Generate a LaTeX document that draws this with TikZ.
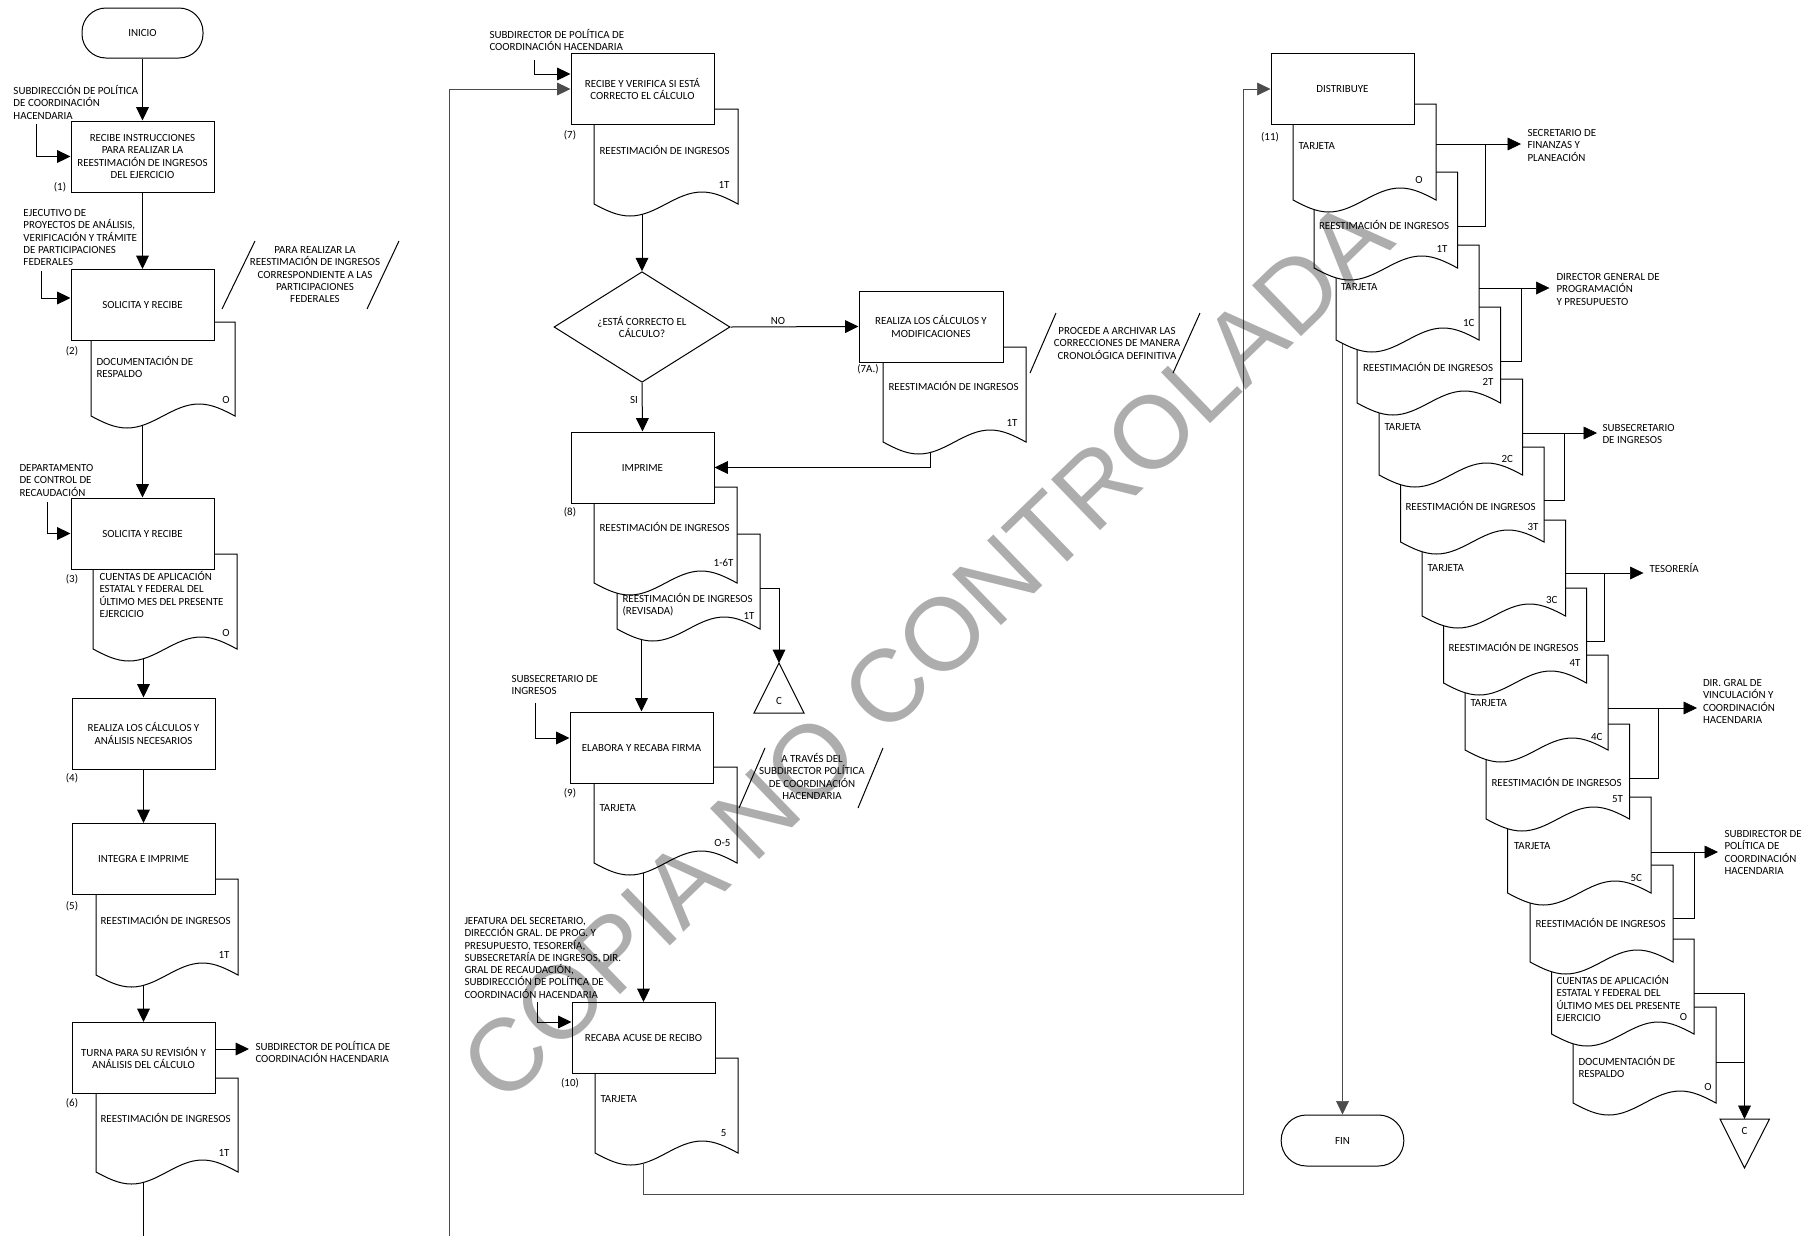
\documentclass[tikz,border=0pt]{standalone}
\usepackage{fontspec}
\setmainfont{Carlito}
\newfontfamily\wmfont{Liberation Sans}
\usetikzlibrary{arrows.meta,shapes.geometric,backgrounds}
% #1 name, #2 left, #3 top, #4 right, #5 bottom (right end)
\newcommand\docpath[5]{%
  \draw[docst] (#2,#3) -- (#4,#3) -- (#4,#5)
    sin ({#4-0.25*(#4-#2)},{#5-12}) cos ({#4-0.5*(#4-#2)},#5)
    sin ({#4-0.75*(#4-#2)},{#5+12}) cos (#2,#5) -- cycle;
  \coordinate (#1-b) at ({#2+(#4-#2)/3},{#5+10.4});
}
\begin{document}
\begin{tikzpicture}[x=0.75pt,y=-0.75pt,line width=0.75pt,
  font=\fontsize{8.2}{9.2}\selectfont,
  arr/.style={-{Triangle[length=10pt,width=9.5pt]}},
  box/.style={draw,fill=white,minimum width=107.25pt,minimum height=53.25pt,inner sep=0pt,align=center},
  term/.style={draw,fill=white,rounded corners=18pt,minimum width=90.75pt,minimum height=37.5pt,inner sep=0pt},
  docst/.style={draw,fill=white},
  lbl/.style={inner sep=0pt,align=left},
  lblc/.style={inner sep=0pt,align=center},
  loopline/.style={draw=black!70},
  wm/.style={inner sep=0pt,rotate=44,font=\wmfont\fontsize{77}{80}\selectfont,text=black,text opacity=0.32}]
\useasboundingbox (0,0) rectangle (1818,1236);

% ---------------- left column ----------------
\node[term] (ini) at (142.5,33) {INICIO};
\node[box] (b1) at (142.5,156.5) {RECIBE INSTRUCCIONES\\PARA REALIZAR LA\\REESTIMACIÓN DE INGRESOS\\DEL EJERCICIO};
\node[lbl] (n1) at (60,187) {(1)};
\node[lbl,anchor=base west] (t1) at (13,119) {SUBDIRECCIÓN DE POLÍTICA\\DE COORDINACIÓN\\HACENDARIA};

\docpath{d2}{91}{322}{235}{416}
\node[box] (b2) at (142.5,305) {SOLICITA Y RECIBE};
\node[lbl] (n2) at (72,351) {(2)};
\node[lbl,anchor=base west] (t2) at (23,265.6) {EJECUTIVO DE\\PROYECTOS DE ANÁLISIS,\\VERIFICACIÓN Y TRÁMITE\\DE PARTICIPACIONES\\FEDERALES};
\node[lbl,anchor=base west] (d2t) at (96,377.8) {DOCUMENTACIÓN DE\\RESPALDO};
\node[lbl] (d2n) at (226,400) {O};
\node[lblc,anchor=base] (a2) at (315,302.6) {PARA REALIZAR LA\\REESTIMACIÓN DE INGRESOS\\CORRESPONDIENTE A LAS\\PARTICIPACIONES\\FEDERALES};
\draw (222,309) -- (255,241);
\draw (367,309) -- (399,241);

\docpath{d3}{93}{554}{237}{649}
\node[box] (b3) at (142.5,533.5) {SOLICITA Y RECIBE};
\node[lbl] (n3) at (72,579) {(3)};
\node[lbl,anchor=base west] (t3) at (19,496) {DEPARTAMENTO\\DE CONTROL DE\\RECAUDACIÓN};
\node[lbl,anchor=base west] (d3t) at (99,617.3) {CUENTAS DE APLICACIÓN\\ESTATAL Y FEDERAL DEL\\ÚLTIMO MES DEL PRESENTE\\EJERCICIO};
\node[lbl] (d3n) at (226,633) {O};

\node[box] (b4) at (143.5,733.5) {REALIZA LOS CÁLCULOS Y\\ANÁLISIS NECESARIOS};
\node[lbl] (n4) at (72,778) {(4)};

\docpath{d5}{96}{879}{238}{975}
\node[box] (b5) at (143.5,859) {INTEGRA E IMPRIME};
\node[lbl] (n5) at (72,906) {(5)};
\node[lbl,anchor=base west] (d5t) at (100,924.5) {REESTIMACIÓN DE INGRESOS};
\node[lbl,anchor=mid east] (d5n) at (230,955) {1T};

\docpath{d6}{96}{1078}{238}{1172}
\node[box] (b6) at (143.5,1058) {TURNA PARA SU REVISIÓN Y\\ANÁLISIS DEL CÁLCULO};
\node[lbl] (n6) at (72,1103) {(6)};
\node[lbl,anchor=base west] (t6) at (255,1062.8) {SUBDIRECTOR DE POLÍTICA DE\\COORDINACIÓN HACENDARIA};
\node[lbl,anchor=base west] (d6t) at (100,1122.5) {REESTIMACIÓN DE INGRESOS};
\node[lbl,anchor=mid east] (d6n) at (230,1153) {1T};

\coordinate (i1) at (36,124);
\coordinate (i2) at (41,271);
\coordinate (i3) at (47,502);
\coordinate (o6) at (249,1049);
\coordinate (e6) at (143.5,1236);
\draw[arr] (ini) -- (b1);
\draw[arr] (i1) |- (b1.west);
\draw[arr] (b1) -- (b2);
\draw[arr] (i2) |- ([yshift=5.25pt]b2.west);
\draw[arr] (d2-b -| b3.north) -- (b3.north);
\draw[arr] (i3) |- (b3.west);
\draw[arr] (d3-b -| b4.north) -- (b4.north);
\draw[arr] (b4) -- (b5);
\draw[arr] (d5-b -| b6.north) -- (b6.north);
\draw[arr] ([yshift=6.75pt]b6.east) -- (o6);
\draw (d6-b -| e6) -- (e6);

% ---------------- middle column ----------------
\docpath{d7}{594}{109}{738}{204}
\node[box] (b7) at (642.5,89) {RECIBE Y VERIFICA SI ESTÁ\\CORRECTO EL CÁLCULO};
\node[lbl] (n7) at (570,135) {(7)};
\node[lbl,anchor=base west] (t7) at (489,50.8) {SUBDIRECTOR DE POLÍTICA DE\\COORDINACIÓN HACENDARIA};
\node[lbl,anchor=base west] (d7t) at (599,154.5) {REESTIMACIÓN DE INGRESOS};
\node[lbl,anchor=mid east] (d7n) at (730,185) {1T};

\node[draw,fill=white,diamond,inner sep=0pt,minimum width=132pt,minimum height=82.5pt,align=center] (dm) at (642,327) {¿ESTÁ CORRECTO EL\\CÁLCULO?};
\node[lbl] (no) at (778,321) {NO};
\node[lbl] (si) at (634,400) {SI};

\docpath{d8b}{617}{534}{760}{629}
\docpath{d8a}{594}{487}{737}{583}
\node[box] (b8) at (642.5,467.5) {IMPRIME};
\node[lbl] (n8) at (570,512) {(8)};
\node[lbl,anchor=base west] (d8at) at (599,531.5) {REESTIMACIÓN DE INGRESOS};
\node[lbl,anchor=mid east] (d8an) at (734,563) {1-6T};
\node[lbl,anchor=base west] (d8bt) at (622,614.8) {REESTIMACIÓN DE INGRESOS\\(REVISADA)};
\node[lbl,anchor=mid east] (d8bn) at (755,616) {1T};

\coordinate (tc1) at (779,663);
\coordinate (tc1l) at (754,713);
\coordinate (tc1r) at (804,713);
\draw (tc1) -- (tc1l) -- (tc1r) -- cycle;
\node[lbl] (c1) at (779,701) {C};

\docpath{d9}{594}{767}{737}{863}
\node[box] (b9) at (641.5,747.5) {ELABORA Y RECABA FIRMA};
\node[lbl] (n9) at (570,793) {(9)};
\node[lbl,anchor=base west] (t9) at (511,694.8) {SUBSECRETARIO DE\\INGRESOS};
\node[lbl,anchor=base west] (d9t) at (599,811.5) {TARJETA};
\node[lbl,anchor=mid east] (d9n) at (731,843) {O-5};
\node[lblc,anchor=base] (a9) at (812,799.3) {A TRAVÉS DEL\\SUBDIRECTOR POLÍTICA\\DE COORDINACIÓN\\HACENDARIA};
\draw (739,808) -- (765,748);
\draw (858,808) -- (883,748);

\docpath{d10}{595}{1058}{738}{1153}
\node[box] (b10) at (643.5,1038) {RECABA ACUSE DE RECIBO};
\node[lbl] (n10) at (570,1083) {(10)};
\node[lbl,anchor=base west] (t10) at (464,998.1) {JEFATURA DEL SECRETARIO,\\DIRECCIÓN GRAL. DE PROG. Y\\PRESUPUESTO, TESORERÍA,\\SUBSECRETARÍA DE INGRESOS, DIR.\\GRAL DE RECAUDACIÓN,\\SUBDIRECCIÓN DE POLÍTICA DE\\COORDINACIÓN HACENDARIA};
\node[lbl,anchor=base west] (d10t) at (600,1102.5) {TARJETA};
\node[lbl,anchor=mid east] (d10n) at (727,1133) {5};

\docpath{d7a}{883}{347}{1026}{442}
\node[box,minimum width=108pt] (b7a) at (931,326.5) {REALIZA LOS CÁLCULOS Y\\MODIFICACIONES};
\node[lbl] (n7a) at (868,369) {(7A.)};
\node[lbl,anchor=base west] (d7at) at (888,390.5) {REESTIMACIÓN DE INGRESOS};
\node[lbl,anchor=mid east] (d7an) at (1018,423) {1T};
\node[lblc,anchor=base] (a7a) at (1117,359) {PROCEDE A ARCHIVAR LAS\\CORRECCIONES DE MANERA\\CRONOLÓGICA DEFINITIVA};
\draw (1030,373) -- (1056,313);
\draw (1173,373) -- (1200,313);

\coordinate (lp1) at (449,1236);
\coordinate (i7) at (534,60);
\coordinate (d8be) at (760,588);
\coordinate (d8bw) at (642,640);
\coordinate (i9) at (535,703);
\coordinate (i10) at (537,1002);
\coordinate (lp2) at (1243,1194);
\draw[arr,loopline] (lp1) |- (b7.west);
\draw[arr] (i7) |- ([yshift=11.25pt]b7.west);
\draw[arr] (d7-b -| dm.north) -- (dm.north);
\draw[arr] (dm.east) -- (b7a.west);
\draw[arr] (dm.south) -- (b8.north);
\draw[arr] (d7a-b) |- (b8.east);
\draw[arr] (d8be) -| (tc1);
\draw[arr] (d8bw -| b9.north) -- (b9.north);
\draw[arr] (i9) |- ([yshift=7.125pt]b9.west);
\draw[arr] (d9-b -| b10.north) -- (b10.north);
\draw[arr] (i10) |- ([yshift=12pt]b10.west);

% ---------------- right column ----------------
\docpath{r14}{1573}{1007}{1716}{1103}
\docpath{r13}{1551.5}{939}{1694}{1034}
\docpath{r12}{1530}{865}{1673}{962}
\docpath{r11}{1507.5}{797}{1651}{893}
\docpath{r10}{1486}{724}{1629.5}{819}
\docpath{r9}{1465}{655}{1608}{750}
\docpath{r8}{1443.5}{588}{1586.5}{683}
\docpath{r7}{1422}{520}{1565.5}{616}
\docpath{r6}{1400.5}{447}{1544}{542}
\docpath{r5}{1379}{379}{1522.5}{475}
\docpath{r4}{1357}{307}{1500.5}{403}
\docpath{r3}{1336}{245}{1479}{340}
\docpath{r2}{1314}{172}{1457.5}{268}
\docpath{r1}{1293}{104}{1436}{200}
\node[box] (b11) at (1342.5,89) {DISTRIBUYE};
\node[lbl] (n11) at (1270,137) {(11)};

\node[lbl,anchor=base west] (r1t) at (1298,149.5) {TARJETA};
\node[lbl] (r1n) at (1419,180) {O};
\node[lbl,anchor=base west] (r2t) at (1318.5,229.5) {REESTIMACIÓN DE INGRESOS};
\node[lbl,anchor=mid east] (r2n) at (1448,249) {1T};
\node[lbl,anchor=base west] (r3t) at (1340.5,290.5) {TARJETA};
\node[lbl,anchor=mid east] (r3n) at (1475,323) {1C};
\node[lbl,anchor=base west] (r4t) at (1362.5,371.5) {REESTIMACIÓN DE INGRESOS};
\node[lbl,anchor=mid east] (r4n) at (1494,382) {2T};
\node[lbl,anchor=base west] (r5t) at (1384,430.5) {TARJETA};
\node[lbl,anchor=mid east] (r5n) at (1513.5,459) {2C};
\node[lbl,anchor=base west] (r6t) at (1405,510.5) {REESTIMACIÓN DE INGRESOS};
\node[lbl,anchor=mid east] (r6n) at (1539,527) {3T};
\node[lbl,anchor=base west] (r7t) at (1427,571.5) {TARJETA};
\node[lbl,anchor=mid east] (r7n) at (1558,600) {3C};
\node[lbl,anchor=base west] (r8t) at (1448,651.5) {REESTIMACIÓN DE INGRESOS};
\node[lbl,anchor=mid east] (r8n) at (1581,663) {4T};
\node[lbl,anchor=base west] (r9t) at (1470,706.5) {TARJETA};
\node[lbl,anchor=mid east] (r9n) at (1603,737) {4C};
\node[lbl,anchor=base west] (r10t) at (1491,786.5) {REESTIMACIÓN DE INGRESOS};
\node[lbl,anchor=mid east] (r10n) at (1623.5,799) {5T};
\node[lbl,anchor=base west] (r11t) at (1513.5,849.5) {TARJETA};
\node[lbl,anchor=mid east] (r11n) at (1642.5,878) {5C};
\node[lbl,anchor=base west] (r12t) at (1535,927.5) {REESTIMACIÓN DE INGRESOS};
\node[lbl,anchor=base west] (r13t) at (1556,1021.3) {CUENTAS DE APLICACIÓN\\ESTATAL Y FEDERAL DEL\\ÚLTIMO MES DEL PRESENTE\\EJERCICIO};
\node[lbl] (r13n) at (1683.5,1017) {O};
\node[lbl,anchor=base west] (r14t) at (1578,1077.8) {DOCUMENTACIÓN DE\\RESPALDO};
\node[lbl] (r14n) at (1708,1087) {O};

\node[lbl,anchor=base west] (o1t) at (1527,161) {SECRETARIO DE\\FINANZAS Y\\PLANEACIÓN};
\node[lbl,anchor=base west] (o2t) at (1556,305) {DIRECTOR GENERAL DE\\PROGRAMACIÓN\\Y PRESUPUESTO};
\node[lbl,anchor=base west] (o3t) at (1602,443.8) {SUBSECRETARIO\\DE INGRESOS};
\node[lbl,anchor=mid west] (o4t) at (1649,569) {TESORERÍA};
\node[lbl,anchor=base west] (o5t) at (1702.5,723.3) {DIR. GRAL DE\\VINCULACIÓN Y\\COORDINACIÓN\\HACENDARIA};
\node[lbl,anchor=base west] (o6t) at (1724,874.3) {SUBDIRECTOR DE\\POLÍTICA DE\\COORDINACIÓN\\HACENDARIA};

\node[term,minimum width=92pt,minimum height=38.25pt,rounded corners=19pt] (fin) at (1342.5,1140.5) {FIN};

\coordinate (tc2) at (1744.5,1119);
\coordinate (tc2l) at (1720,1119);
\coordinate (tc2r) at (1769.5,1119);
\coordinate (tc2b) at (1744.5,1168);
\draw (tc2l) -- (tc2r) -- (tc2b) -- cycle;
\node[lbl] (c2) at (1744.5,1131) {C};

\begin{pgfonlayer}{background}
\draw[arr,loopline] (b11.south) -- (fin.north);
\end{pgfonlayer}

\draw[arr,loopline] (d10-b -| b10.south) |- (lp2) |- (b11.west);

\coordinate (r1e) at (1436,144);     \coordinate (o1) at (1521,144);
\coordinate (r2e) at (1457.5,226);   \coordinate (j1) at (1485,144);
\coordinate (r3e) at (1479,288);     \coordinate (o2) at (1549.5,288);
\coordinate (r4e) at (1500.5,361);   \coordinate (j2) at (1521,288);
\coordinate (r5e) at (1522.5,433);   \coordinate (o3) at (1597,433);
\coordinate (r6e) at (1544,500);     \coordinate (j3) at (1564.5,433);
\coordinate (r7e) at (1565.5,573);   \coordinate (o4) at (1643.5,573);
\coordinate (r8e) at (1586.5,641);   \coordinate (j4) at (1604,573);
\coordinate (r9e) at (1608,708);     \coordinate (o5) at (1697,708);
\coordinate (r10e) at (1629.5,778);  \coordinate (j5) at (1658.5,708);
\coordinate (r11e) at (1651,852);    \coordinate (o6r) at (1718,852);
\coordinate (r12e) at (1673,918);    \coordinate (j6) at (1694.5,852);
\coordinate (r13e) at (1694,993);
\coordinate (r14e) at (1716,1062);   \coordinate (j7) at (1744.5,1062);
\draw[arr] (r1e) -- (o1);   \draw (r2e) -| (j1);
\draw[arr] (r3e) -- (o2);   \draw (r4e) -| (j2);
\draw[arr] (r5e) -- (o3);   \draw (r6e) -| (j3);
\draw[arr] (r7e) -- (o4);   \draw (r8e) -| (j4);
\draw[arr] (r9e) -- (o5);   \draw (r10e) -| (j5);
\draw[arr] (r11e) -- (o6r); \draw (r12e) -| (j6);
\draw[arr] (r13e) -| (tc2);
\draw (r14e) -- (j7);

% watermark
\node[wm] (wmark) at (926,650) {COPIA NO CONTROLADA};
\end{tikzpicture}
\end{document}
